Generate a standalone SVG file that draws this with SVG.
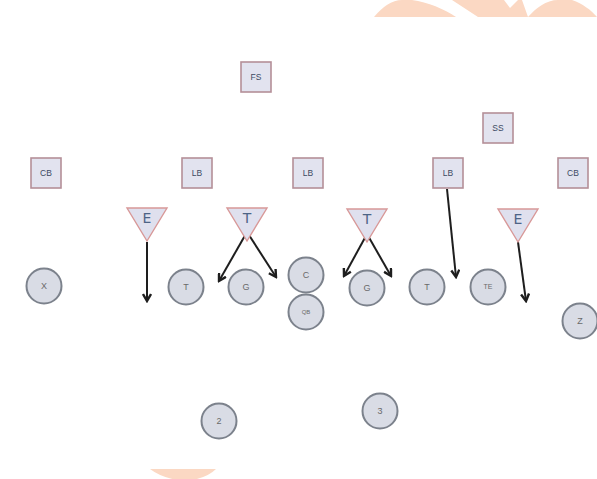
<svg xmlns="http://www.w3.org/2000/svg" width="597" height="479" viewBox="0 0 597 479">
<defs>
<style>
.box rect{fill:#e2e3ef;stroke:#b58f98;stroke-width:1.6}
.box text{font-family:"Liberation Sans",Arial,sans-serif;font-size:8.5px;fill:#3c4a62;text-anchor:middle}
.dl polygon{fill:#dfe0ee;stroke:#d89898;stroke-width:1.4}
.dl text{font-family:"DejaVu Sans",sans-serif;font-size:14px;fill:#4d6486;text-anchor:middle}
.pl circle{fill:#d9dce5;stroke:#7c828c;stroke-width:2}
.pl text{font-family:"Liberation Sans",Arial,sans-serif;font-size:9px;fill:#6a6a6a;text-anchor:middle}
.wm{fill:#fbd8c3}
#connectors line{stroke:#1e1e1e;stroke-width:2;marker-end:url(#ah)}
</style>
<marker id="ah" viewBox="0 0 10 10" refX="8" refY="5" markerWidth="5" markerHeight="5" orient="auto" markerUnits="strokeWidth">
<path d="M1,1 L8,5 L1,9" fill="none" stroke="#1e1e1e" stroke-width="2.4"/>
</marker>
</defs>
<rect width="597" height="479" fill="#ffffff"/>
<g id="watermark">
<path class="wm" d="M374,17 C382,7 392,0 402,0 L412,0 C428,2 444,9 456,17 Z"/>
<path class="wm" d="M452,0 L504,0 L510,8 L518,0 L522,0 L528,17 L478,17 Z"/>
<path class="wm" d="M528,17 C536,8 546,0 558,0 L572,0 C583,4 591,10 597,17 Z"/>
<path class="wm" d="M150,469 L216,469 Q206,479 185,481 Q163,479 150,469 Z"/>
</g>
<g id="connectors">
<line x1="147" y1="242" x2="147" y2="301"/>
<line x1="247" y1="232" x2="219" y2="281"/>
<line x1="247" y1="232" x2="276" y2="277"/>
<line x1="367" y1="234" x2="344" y2="276"/>
<line x1="367" y1="234" x2="391" y2="276"/>
<line x1="447" y1="189" x2="456" y2="277"/>
<line x1="518" y1="242" x2="526" y2="301"/>
</g>
<g id="FS" class="box"><rect x="241" y="62" width="30" height="30"/><text x="256" y="80">FS</text></g>
<g id="SS" class="box"><rect x="483" y="113" width="30" height="30"/><text x="498" y="131">SS</text></g>
<g id="CB1" class="box"><rect x="31" y="158" width="30" height="30"/><text x="46" y="176">CB</text></g>
<g id="LB1" class="box"><rect x="182" y="158" width="30" height="30"/><text x="197" y="176">LB</text></g>
<g id="LB2" class="box"><rect x="293" y="158" width="30" height="30"/><text x="308" y="176">LB</text></g>
<g id="LB3" class="box"><rect x="433" y="158" width="30" height="30"/><text x="448" y="176">LB</text></g>
<g id="CB2" class="box"><rect x="558" y="158" width="30" height="30"/><text x="573" y="176">CB</text></g>
<g id="E1" class="dl"><polygon points="127,208 167,208 147,241"/><text x="147" y="223">E</text></g>
<g id="T1" class="dl"><polygon points="227,208 267,208 247,241"/><text x="247" y="223">T</text></g>
<g id="T2" class="dl"><polygon points="347,209 387,209 367,242"/><text x="367" y="224">T</text></g>
<g id="E2" class="dl"><polygon points="498,209 538,209 518,242"/><text x="518" y="224">E</text></g>
<g id="X" class="pl"><circle cx="44" cy="286" r="17.5"/><text x="44" y="289">X</text></g>
<g id="LT" class="pl"><circle cx="186" cy="287" r="17.5"/><text x="186" y="290">T</text></g>
<g id="LG" class="pl"><circle cx="246" cy="287" r="17.5"/><text x="246" y="290">G</text></g>
<g id="C" class="pl"><circle cx="306" cy="275" r="17.5"/><text x="306" y="278">C</text></g>
<g id="QB" class="pl"><circle cx="306" cy="312" r="17.5"/><text x="306" y="314" style="font-size:6px">QB</text></g>
<g id="RG" class="pl"><circle cx="367" cy="288" r="17.5"/><text x="367" y="291">G</text></g>
<g id="RT" class="pl"><circle cx="427" cy="287" r="17.5"/><text x="427" y="290">T</text></g>
<g id="TE" class="pl"><circle cx="488" cy="287" r="17.5"/><text x="488" y="289" style="font-size:7px">TE</text></g>
<g id="Z" class="pl"><circle cx="580" cy="321" r="17.5"/><text x="580" y="324">Z</text></g>
<g id="B2" class="pl"><circle cx="219" cy="421" r="17.5"/><text x="219" y="424">2</text></g>
<g id="B3" class="pl"><circle cx="380" cy="411" r="17.5"/><text x="380" y="414">3</text></g>
</svg>
